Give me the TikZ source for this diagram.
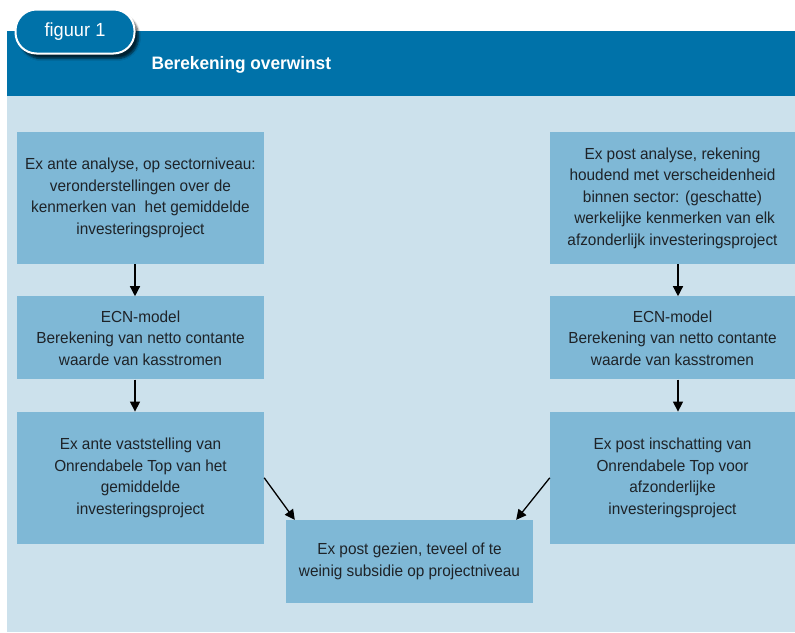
\documentclass[tikz,border=0pt]{standalone}
\usepackage{fontspec}
\setmainfont{Liberation Sans}[FakeStretch=0.96]
\usepackage{tikz}
\usetikzlibrary{calc}
\usetikzlibrary{positioning}
\usetikzlibrary{arrows.meta}
\usetikzlibrary{shadows.blur}

\definecolor{kopblauw}{RGB}{0,114,169}
\definecolor{achtergrond}{RGB}{204,225,236}
\definecolor{vakblauw}{RGB}{127,184,214}
\definecolor{tekst}{RGB}{30,35,40}

\begin{document}
\begin{tikzpicture}[x=1pt,y=-1pt,node distance=32pt,font=\fontsize{16}{21.5}\selectfont]
			\tikzset{stap/.style={fill=vakblauw,draw=none,inner sep=0pt,minimum width=247pt,text=tekst,align=center}}
			\tikzset{pijl/.style={draw,line width=1.3pt,-{Triangle[length=10pt,width=10pt]}}}
			\useasboundingbox (0,0) rectangle (795,632);
			% Header and background
			\fill[achtergrond] (7,96) rectangle (795,632);
			\fill[kopblauw] (7,31) rectangle (795,96);
			\node[fill=kopblauw,draw=white,line width=2pt,rounded corners=21pt,minimum width=119pt,minimum height=44pt,
				blur shadow={shadow xshift=4pt,shadow yshift=-5pt,shadow blur steps=6,shadow opacity=70},
				text=white,font=\fontsize{19}{22}\selectfont] (tab) at (75,31.5) {figuur 1};
			\node[anchor=west,text=white,font=\fontsize{18}{22}\selectfont\bfseries] (titel) at (148,65) {Berekening overwinst};
			% Place Nodes
			\node[stap,minimum height=132pt] (L1) at (140.5,198) {Ex ante analyse, op sectorniveau:\\veronderstellingen over de\\kenmerken van\ \ het gemiddelde\\investeringsproject};
			\node[stap,minimum height=83pt] (L2) [below=of L1] {ECN-model\\Berekening van netto contante\\waarde van kasstromen};
			\node[stap,minimum height=132pt] (L3) [below=of L2] {Ex ante vaststelling van\\Onrendabele Top van het\\gemiddelde\\investeringsproject};
			\node[stap,minimum width=245pt,minimum height=132pt] (R1) at (672.5,198) {Ex post analyse, rekening\\houdend met verscheidenheid\\binnen sector: (geschatte)\\\ werkelijke kenmerken van elk\\afzonderlijk investeringsproject};
			\node[stap,minimum width=245pt,minimum height=83pt] (R2) [below=of R1] {ECN-model\\Berekening van netto contante\\waarde van kasstromen};
			\node[stap,minimum width=245pt,minimum height=132pt] (R3) [below=of R2] {Ex post inschatting van\\Onrendabele Top voor\\afzonderlijke\\investeringsproject};
			\node[stap,minimum height=83pt] (uit) at (409.5,561.5) {Ex post gezien, teveel of te\\weinig subsidie op projectniveau};
			% Draw flow paths
			\draw[pijl] ([xshift=-5.5pt]L1.south) -- ([xshift=-5.5pt]L2.north);
			\draw[pijl] ([xshift=-5.5pt]L2.south) -- ([xshift=-5.5pt]L3.north);
			\draw[pijl] ([xshift=5.5pt]R1.south) -- ([xshift=5.5pt]R2.north);
			\draw[pijl] ([xshift=5.5pt]R2.south) -- ([xshift=5.5pt]R3.north);
			\draw[pijl] (L3.east) -- ([xshift=9pt]uit.north west);
			\draw[pijl] (R3.west) -- ([xshift=-17pt]uit.north east);
\end{tikzpicture}
\end{document}
